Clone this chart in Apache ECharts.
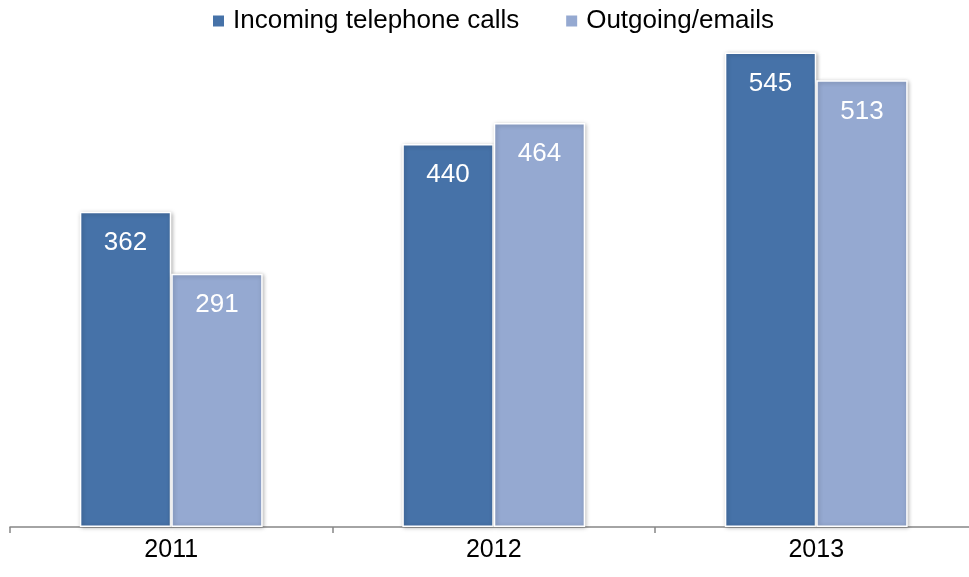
<!DOCTYPE html>
<html>
<head>
<meta charset="utf-8">
<script src="https://cdn.jsdelivr.net/npm/echarts@6/dist/echarts.min.js"></script>
<style>
  html, body { margin: 0; padding: 0; background: #ffffff; overflow: hidden; }
  #chart { width: 969px; height: 577px; }
</style>
</head>
<body>
<div id="chart"></div>
<script>
// Yearly contact volumes
const years = ['2011', '2012', '2013'];
const incomingCalls = [362, 440, 545];
const outgoingEmails = [291, 464, 513];
const seriesNames = ['Incoming telephone calls', 'Outgoing/emails'];

const FONT = 'Arial, "Liberation Sans", sans-serif';

const chart = echarts.init(document.getElementById('chart'), null, { renderer: 'canvas' });

function barSeries(name, values, color) {
  return {
    name: name,
    type: 'bar',
    data: values,
    barGap: 0,
    barCategoryGap: '43.3%',
    itemStyle: {
      color: color,
      borderColor: '#ffffff',
      borderWidth: 1.5,
      shadowColor: 'rgba(0,0,0,0.28)',
      shadowBlur: 4,
      shadowOffsetX: 1,
      shadowOffsetY: 1
    },
    label: {
      show: true,
      position: 'insideTop',
      distance: 18,
      color: '#ffffff',
      fontFamily: FONT,
      fontSize: 26
    },
    emphasis: { disabled: true }
  };
}

chart.setOption({
  animation: false,
  textStyle: { fontFamily: FONT },
  legend: {
    data: seriesNames,
    left: 211,
    top: 8,
    padding: 0,
    itemWidth: 13,
    itemHeight: 13,
    itemGap: 45,
    icon: 'rect',
    textStyle: { fontFamily: FONT, fontSize: 26, color: '#000000', padding: [0, 0, 0, 3] }
  },
  // the last category runs past the right edge of the canvas
  grid: {
    left: 10,
    top: 4.6,
    width: 967.5,
    height: 522.4,
    containLabel: false,
    outerBoundsMode: 'none'
  },
  xAxis: {
    type: 'category',
    data: years,
    boundaryGap: true,
    axisLine: { show: true, lineStyle: { color: '#868686', width: 1.5 } },
    axisTick: { show: true, length: 6, inside: false, lineStyle: { color: '#868686', width: 1.5 } },
    axisLabel: { color: '#000000', fontFamily: FONT, fontSize: 25, margin: 11 },
    splitLine: { show: false }
  },
  yAxis: {
    type: 'value',
    min: 0,
    max: 600,
    show: false,
    splitLine: { show: false }
  },
  series: [
    barSeries(seriesNames[0], incomingCalls, '#4672a8'),
    barSeries(seriesNames[1], outgoingEmails, '#95a9d1')
  ]
});
</script>
</body>
</html>
